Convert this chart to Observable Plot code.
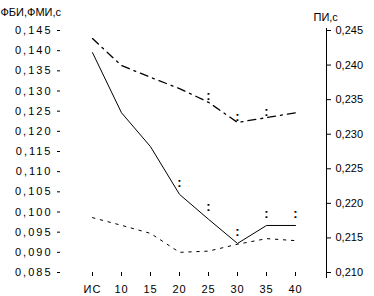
<!DOCTYPE html>
<html>
<head>
<meta charset="utf-8">
<script src="https://cdn.jsdelivr.net/npm/d3@7"></script>
<script src="https://cdn.jsdelivr.net/npm/@observablehq/plot@0.6"></script>
<style>
  html, body { margin: 0; padding: 0; background: #fff; }
  #chart svg { display: block; }
</style>
</head>
<body>
<div id="chart"></div>
<script>
// Categories (x axis)
const categories = ["ИС", "10", "15", "20", "25", "30", "35", "40"];
// ФБИ (left axis, dash-dot line)
const fbi = [0.1430, 0.1363, 0.1334, 0.1306, 0.1272, 0.1222, 0.1234, 0.1246];
// ФМИ (left axis, dotted line)
const fmi = [0.0986, 0.0967, 0.0947, 0.0900, 0.0903, 0.0920, 0.0934, 0.0929];
// ПИ (right axis, solid line)
const pi = [0.2418, 0.2331, 0.2282, 0.2213, 0.2177, 0.2142, 0.2168, 0.2168];
// significance markers
const fbiSignif = ["25", "30", "35"];
const piSignif = ["20", "25", "30", "35", "40"];
// tick values
const leftTicks = [0.085, 0.090, 0.095, 0.100, 0.105, 0.110, 0.115, 0.120, 0.125, 0.130, 0.135, 0.140, 0.145];
const rightTicks = [0.210, 0.215, 0.220, 0.225, 0.230, 0.235, 0.240, 0.245];
const leftTitle = "ФБИ,ФМИ,с";
const rightTitle = "ПИ,с";

const leftDomain = [0.085, 0.145];
const rightDomain = [0.210, 0.245];
const toLeft = d3.scaleLinear(rightDomain, leftDomain);
const fmt = v => d3.format(".3f")(v).replace(".", ",");

const rows = categories.map((c, i) => ({cat: c, fbi: fbi[i], fmi: fmi[i], piL: toLeft(pi[i])}));

const font = "'Liberation Sans', Arial, sans-serif";

const svg = Plot.plot({
  width: 374,
  height: 296,
  marginLeft: 60,
  marginRight: 48,
  marginTop: 30,
  marginBottom: 24,
  style: {fontFamily: font, background: "#fff", color: "#000"},
  x: {type: "point", domain: categories, padding: 1},
  y: {domain: leftDomain},
  marks: [
    Plot.frame({anchor: "right", insetTop: -2, insetBottom: -5, stroke: "#000"}),
    Plot.axisY(leftTicks, {anchor: "left", tickSize: 3, tickPadding: 5, tickFormat: fmt, fontSize: 11, label: null}),
    Plot.axisY(rightTicks.map(toLeft), {anchor: "right", tickSize: 4, tickPadding: 5, tickFormat: d => fmt(toLeft.invert(d)), fontSize: 11, label: null}),
    Plot.axisX({tickSize: 4, tickPadding: 9, fontSize: 11, label: null}),
    Plot.line(rows, {x: "cat", y: "piL", stroke: "#000", strokeWidth: 1}),
    Plot.line(rows, {x: "cat", y: "fbi", stroke: "#000", strokeWidth: 1.3, strokeDasharray: "8,5,2,5"}),
    Plot.line(rows, {x: "cat", y: "fmi", stroke: "#000", strokeWidth: 1, strokeDasharray: "2.5,5.5"}),
    Plot.text(rows.filter(d => piSignif.includes(d.cat)), {x: "cat", y: "piL", text: () => ":", dy: -12, fontSize: 13, fontWeight: "bold", fill: "#000"}),
    Plot.text(rows.filter(d => fbiSignif.includes(d.cat)), {x: "cat", y: "fbi", text: () => ":", dy: -6, fontSize: 13, fontWeight: "bold", fill: "#000"}),
    Plot.text([leftTitle], {frameAnchor: "top-left", dx: -60, dy: -22, textAnchor: "start", fontSize: 11, fill: "#000", ariaLabel: "left-title"}),
    Plot.text([rightTitle], {frameAnchor: "top-right", dx: -13, dy: -17, textAnchor: "start", fontSize: 11, fill: "#000"})
  ]
});

// wider letter spacing on the left axis labels, as in the reference
svg.querySelectorAll('g[aria-label="y-axis tick label"]').forEach(g => {
  if (g.getAttribute("text-anchor") === "end") g.style.letterSpacing = "2px";
});
svg.querySelectorAll('g[aria-label="x-axis tick label"]').forEach(g => g.style.letterSpacing = "1px");
svg.querySelectorAll('g[aria-label="left-title"]').forEach(g => g.style.letterSpacing = "1.5px");

document.getElementById("chart").appendChild(svg);
</script>
</body>
</html>
